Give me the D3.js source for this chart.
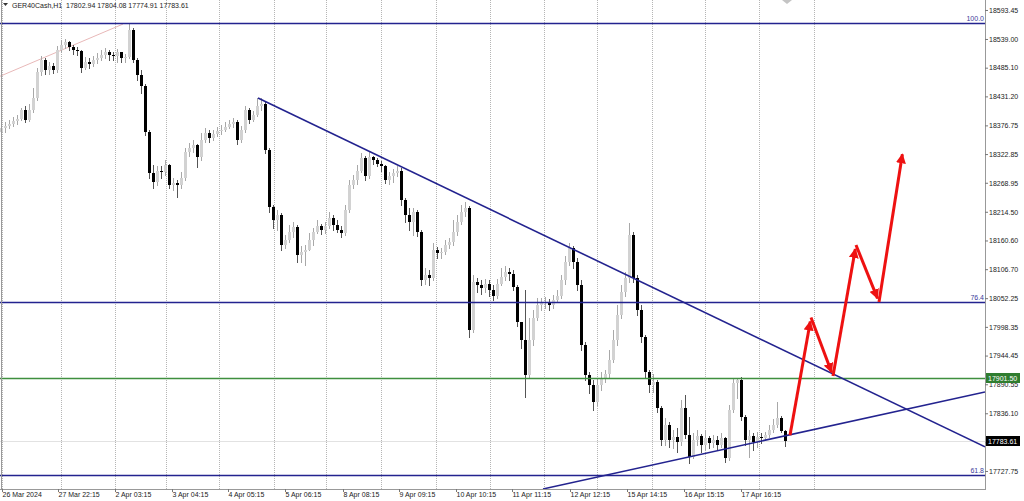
<!DOCTYPE html>
<html>
<head>
<meta charset="utf-8">
<script src="https://cdn.jsdelivr.net/npm/d3@7"></script>
<style>
body { margin: 0; background: #fff; }
text { font-family: "Liberation Sans", Arial, sans-serif; font-size: 7px; fill: #222; }
</style>
</head>
<body>
<svg id="chart" width="1024" height="501"></svg>
<script>
// GER40Cash H1 - candles
var symbolTitle = "GER40Cash,H1  17802.94 17804.08 17774.91 17783.61";

var opens = [
  18364,18371,18375,18379,18385,18388,18405,18386,18405,18428,
  18477,18499,18481,18488,18481,18518,18528,18533,18524,18518,
  18516,18484,18496,18492,18499,18503,18509,18514,18509,18507,
  18514,18503,18505,18556,18499,18471,18450,18364,18287,18270,
  18292,18289,18302,18264,18268,18264,18277,18326,18334,18339,
  18317,18349,18362,18353,18360,18366,18369,18373,18379,18383,
  18349,18368,18405,18386,18396,18413,18417,18330,18223,18199,
  18208,18152,18161,18176,18186,18133,18139,18142,18161,18176,
  18188,18180,18188,18203,18189,18180,18174,18218,18264,18274,
  18292,18315,18281,18317,18311,18305,18300,18274,18281,18287,
  18292,18236,18208,18195,18214,18176,18086,18095,18090,18142,
  18137,18139,18152,18157,18176,18195,18214,18221,17992,18082,
  18077,18071,18079,18067,18056,18079,18092,18101,18097,18073,
  18007,17973,17908,17973,18015,18039,18043,18045,18039,18049,
  18056,18086,18120,18146,18120,18077,17964,17908,17889,17857,
  17889,17902,17910,17936,17973,18020,18064,18090,18171,18090,
  18030,17979,17913,17889,17895,17846,17786,17814,17786,17791,
  17782,17846,17795,17754,17786,17793,17776,17789,17780,17786,
  17776,17789,17752,17842,17893,17898,17829,17786,17793,17782,
  17791,17789,17795,17804,17814,17827,17802.94
];
var highs = [
  18379,18383,18386,18392,18396,18409,18413,18417,18447,18484,
  18507,18503,18496,18494,18526,18537,18539,18535,18528,18524,
  18518,18505,18503,18507,18513,18518,18522,18518,18514,18520,
  18514,18511,18569,18560,18503,18481,18454,18368,18302,18300,
  18300,18311,18305,18277,18274,18289,18335,18343,18349,18341,
  18362,18371,18368,18369,18373,18377,18383,18386,18390,18386,
  18375,18413,18409,18403,18428,18428,18420,18334,18227,18218,
  18212,18171,18189,18195,18189,18150,18152,18174,18184,18199,
  18191,18195,18214,18208,18199,18188,18227,18274,18283,18302,
  18324,18320,18326,18320,18315,18309,18302,18289,18294,18300,
  18297,18240,18221,18221,18218,18180,18109,18105,18156,18148,
  18146,18161,18165,18199,18208,18227,18232,18225,18095,18090,
  18086,18088,18086,18077,18088,18109,18112,18109,18105,18077,
  18007,18067,18015,18030,18052,18052,18054,18050,18058,18067,
  18095,18131,18156,18150,18127,18086,17970,17913,17898,17902,
  17913,17917,17955,17992,18039,18077,18101,18193,18176,18095,
  18039,17983,17917,17910,17898,17849,17827,17819,17804,17808,
  17861,17870,17829,17799,17804,17797,17804,17793,17795,17793,
  17799,17791,17851,17902,17902,17904,17833,17804,17799,17801,
  17799,17801,17814,17825,17857,17831,17804.08
];
var lows = [
  18349,18364,18371,18375,18379,18386,18383,18385,18402,18424,
  18471,18473,18473,18475,18477,18514,18522,18518,18511,18509,
  18477,18482,18484,18488,18494,18499,18503,18499,18499,18496,
  18496,18496,18503,18496,18462,18437,18358,18277,18259,18264,
  18277,18283,18259,18255,18242,18259,18274,18320,18326,18298,
  18311,18345,18345,18349,18356,18360,18366,18371,18373,18341,
  18345,18364,18381,18385,18394,18405,18324,18214,18184,18180,
  18142,18146,18157,18167,18120,18120,18114,18142,18152,18174,
  18172,18174,18184,18180,18176,18167,18171,18214,18259,18266,
  18289,18274,18277,18304,18300,18292,18268,18266,18270,18281,
  18227,18195,18180,18171,18169,18077,18079,18077,18086,18127,
  18127,18136,18146,18152,18171,18191,18206,17979,17989,18064,
  18060,18064,18056,18049,18052,18077,18086,18086,18067,18000,
  17958,17866,17904,17964,18011,18030,18034,18030,18034,18045,
  18052,18079,18114,18109,18067,17955,17898,17874,17842,17851,
  17880,17895,17902,17932,17964,18015,18056,18082,18082,18020,
  17970,17904,17876,17876,17838,17776,17776,17772,17771,17763,
  17776,17789,17742,17752,17776,17763,17767,17771,17772,17767,
  17772,17744,17748,17838,17865,17823,17776,17754,17767,17772,
  17780,17786,17791,17801,17810,17801,17774.91
];
var closes = [
  18371,18375,18379,18385,18388,18405,18386,18405,18428,18477,
  18499,18481,18488,18481,18518,18528,18533,18524,18518,18516,
  18484,18496,18492,18499,18503,18509,18514,18509,18507,18514,
  18503,18505,18556,18499,18471,18450,18364,18287,18270,18292,
  18289,18302,18264,18268,18264,18277,18326,18334,18339,18317,
  18349,18362,18353,18360,18366,18369,18373,18379,18383,18349,
  18368,18405,18386,18396,18413,18417,18330,18223,18199,18208,
  18152,18161,18176,18186,18133,18139,18142,18161,18176,18188,
  18180,18188,18203,18189,18180,18174,18218,18264,18274,18292,
  18315,18281,18317,18311,18305,18300,18274,18281,18287,18292,
  18236,18208,18195,18214,18176,18086,18095,18090,18142,18137,
  18139,18152,18157,18176,18195,18214,18221,17992,18082,18077,
  18071,18079,18067,18056,18079,18092,18101,18097,18073,18007,
  17973,17908,17973,18015,18039,18043,18045,18039,18049,18056,
  18086,18120,18146,18120,18077,17964,17908,17889,17857,17889,
  17902,17910,17936,17973,18020,18064,18090,18171,18090,18030,
  17979,17913,17889,17895,17846,17786,17814,17786,17791,17782,
  17846,17795,17754,17786,17793,17776,17789,17780,17786,17776,
  17789,17752,17842,17893,17898,17829,17786,17793,17782,17791,
  17789,17795,17804,17814,17827,17802.94,17783.61
];

var priceTicks = [18593.45,18539.00,18485.10,18431.20,18376.75,18322.85,18268.95,18214.50,
  18160.60,18106.70,18052.25,17998.35,17944.45,17890.55,17836.10,17781.65,17727.75];

var timeLabels = ["26 Mar 2024","27 Mar 22:15","2 Apr 03:15","3 Apr 04:15","4 Apr 05:15",
  "5 Apr 06:15","8 Apr 08:15","9 Apr 09:15","10 Apr 10:15","11 Apr 11:15","12 Apr 12:15",
  "15 Apr 14:15","16 Apr 15:15","17 Apr 16:15"];
var labelBars = [0.25,14.25,28.5,42.75,56.75,71,85.5,99.5,113.75,127.75,142.25,156.5,170.75,185];
var gridBars = [0.25,15,28.5,41.25,54.5,68.25,81.25,95,108.75,122.25,135.75,149,162.75,176,189.5,203.25];

var fibNames = ["100.0","76.4","61.8"];
var fibPrices = [18569, 18045, 17720];
var supportPrice = 17901.50;
var lastPrice = 17783.61;

var trendDown = [[64.25, 18428], [246, 17773]];
var trendUp = [[135.5, 17694], [246, 17876]];
var oldLine = [[-0.25, 18469], [30.5, 18567]];

var arrowBars = [197.25, 202.5, 208, 213.75, 219.5, 225.5];
var arrowPrices = [17795, 18016, 17906, 18152, 18045, 18330];

var plotW = 985, plotH = 489;
var navy = "#23238f";

var svg = d3.select("#chart");
var x = d3.scaleLinear().domain([0, 246]).range([1, 985]);
var y = d3.scaleLinear().domain([17692, 18612.2]).range([490, 0]);

svg.append("defs").append("clipPath").attr("id", "plot")
  .append("rect").attr("x", 0).attr("y", 0).attr("width", plotW).attr("height", plotH);

svg.append("defs").append("marker")
    .attr("id", "head")
    .attr("viewBox", "0 -5 10 10")
    .attr("refX", 9).attr("refY", 0)
    .attr("markerUnits", "userSpaceOnUse")
    .attr("markerWidth", 10).attr("markerHeight", 10)
    .attr("orient", "auto")
  .append("path")
    .attr("d", "M0,-5L10,0L0,5Z")
    .attr("fill", "#ee1111");

var plot = svg.append("g").attr("clip-path", "url(#plot)");

// vertical grid
plot.selectAll("line.grid")
    .data(gridBars)
  .enter().append("line")
    .attr("class", "grid")
    .attr("x1", function(d) { return Math.round(x(d)) + 0.5; })
    .attr("x2", function(d) { return Math.round(x(d)) + 0.5; })
    .attr("y1", 0).attr("y2", plotH)
    .attr("stroke", "#b5b5b5")
    .attr("stroke-dasharray", "1,1");

// bid line
plot.append("line")
    .attr("x1", 0).attr("x2", plotW)
    .attr("y1", Math.round(y(lastPrice)) + 0.5).attr("y2", Math.round(y(lastPrice)) + 0.5)
    .attr("stroke", "#e2e2e2");

var line = d3.line()
    .x(function(d) { return x(d[0]); })
    .y(function(d) { return y(d[1]); });

plot.append("path").attr("d", line(oldLine))
    .attr("fill", "none").attr("stroke", "#e8b8b8").attr("stroke-width", 1);

// candles
var candles = plot.selectAll("g.candle")
    .data(closes.map(function(c, i) { return i; }))
  .enter().append("g")
    .attr("class", "candle");

candles.append("line")
    .attr("x1", function(i) { return x(i) + 0.5; })
    .attr("x2", function(i) { return x(i) + 0.5; })
    .attr("y1", function(i) { return Math.round(y(highs[i])); })
    .attr("y2", function(i) { return Math.round(y(lows[i])) + 1; })
    .attr("stroke", function(i) { return closes[i] < opens[i] ? "#555" : "#a8a8a8"; });

candles.append("rect")
    .attr("x", function(i) { return x(i) - 1; })
    .attr("width", 3)
    .attr("y", function(i) { return Math.round(y(Math.max(opens[i], closes[i]))); })
    .attr("height", function(i) {
      return Math.max(1, Math.round(y(Math.min(opens[i], closes[i]))) - Math.round(y(Math.max(opens[i], closes[i]))));
    })
    .attr("fill", function(i) { return closes[i] < opens[i] ? "#000" : "#d2d2d2"; });

// fibo levels
plot.selectAll("line.fib")
    .data(fibPrices)
  .enter().append("line")
    .attr("class", "fib")
    .attr("x1", 0).attr("x2", plotW)
    .attr("y1", function(d) { return Math.round(y(d)) + 0.5; })
    .attr("y2", function(d) { return Math.round(y(d)) + 0.5; })
    .attr("stroke", navy).attr("stroke-width", 1.6);

svg.selectAll("text.fib")
    .data(fibPrices)
  .enter().append("text")
    .attr("class", "fib")
    .attr("x", plotW - 1)
    .attr("y", function(d) { return Math.round(y(d)) - 2; })
    .attr("text-anchor", "end")
    .style("fill", "#3a3a9a")
    .text(function(d, i) { return fibNames[i]; });

plot.append("line")
    .attr("x1", 0).attr("x2", plotW)
    .attr("y1", Math.round(y(supportPrice)) + 0.5).attr("y2", Math.round(y(supportPrice)) + 0.5)
    .attr("stroke", "#3f8f3f").attr("stroke-width", 1.6);

plot.append("path").attr("d", line(trendDown))
    .attr("fill", "none").attr("stroke", navy).attr("stroke-width", 1.6);
plot.append("path").attr("d", line(trendUp))
    .attr("fill", "none").attr("stroke", navy).attr("stroke-width", 1.6);

// projected path
var pts = arrowBars.map(function(b, i) { return [x(b), y(arrowPrices[i])]; });
d3.pairs(pts).forEach(function(p) {
  var dx = p[1][0] - p[0][0], dy = p[1][1] - p[0][1];
  var len = Math.sqrt(dx * dx + dy * dy);
  plot.append("line")
      .attr("x1", p[0][0]).attr("y1", p[0][1])
      .attr("x2", p[1][0] - dx / len * 4).attr("y2", p[1][1] - dy / len * 4)
      .attr("stroke", "#ee1111").attr("stroke-width", 3)
      .attr("marker-end", "url(#head)");
});

// axes
var yAxis = svg.append("g")
    .attr("transform", "translate(" + plotW + ",0)")
    .call(d3.axisRight(y).tickValues(priceTicks).tickSize(3).tickSizeOuter(0).tickPadding(1)
      .tickFormat(d3.format(".2f")));
yAxis.select(".domain").attr("stroke", "#999").attr("d", "M0.5,0V" + plotH);
yAxis.selectAll(".tick line").attr("stroke", "#777");
yAxis.selectAll("text").style("font-size", "7px").style("font-family", "Liberation Sans, Arial").style("fill", "#222");

var xAxis = svg.append("g")
    .attr("transform", "translate(0," + plotH + ")")
    .call(d3.axisBottom(x).tickValues(labelBars).tickSize(3).tickSizeOuter(0).tickPadding(0)
      .tickFormat(function(d, i) { return timeLabels[i]; }));
xAxis.select(".domain").attr("stroke", "#999").attr("d", "M0,0.5H" + (plotW + 1));
xAxis.selectAll(".tick line").attr("stroke", "#777");
xAxis.selectAll("text").attr("text-anchor", "start").attr("x", 0)
    .style("font-size", "7px").style("font-family", "Liberation Sans, Arial").style("fill", "#222");

svg.append("line").attr("x1", 1.5).attr("x2", 1.5).attr("y1", 0).attr("y2", plotH)
    .attr("stroke", "#999");

// price labels on the scale
function priceTag(p, fill) {
  var cy = Math.round(y(p));
  svg.append("rect").attr("x", 986).attr("y", cy - 5).attr("width", 34).attr("height", 10).attr("fill", fill);
  svg.append("text").attr("x", 988).attr("y", cy + 2.5).style("fill", "#fff").text(d3.format(".2f")(p));
}
priceTag(supportPrice, "#2f7d2f");
priceTag(lastPrice, "#000");

// header
svg.append("path").attr("d", "M3,3L8,3L5.5,6Z").attr("fill", "#333");
svg.append("text").attr("x", 12).attr("y", 8).attr("xml:space", "preserve").text(symbolTitle);
svg.append("path").attr("d", "M782,0L792,0L787,4Z").attr("fill", "#c4c4c4");
</script>
</body>
</html>
